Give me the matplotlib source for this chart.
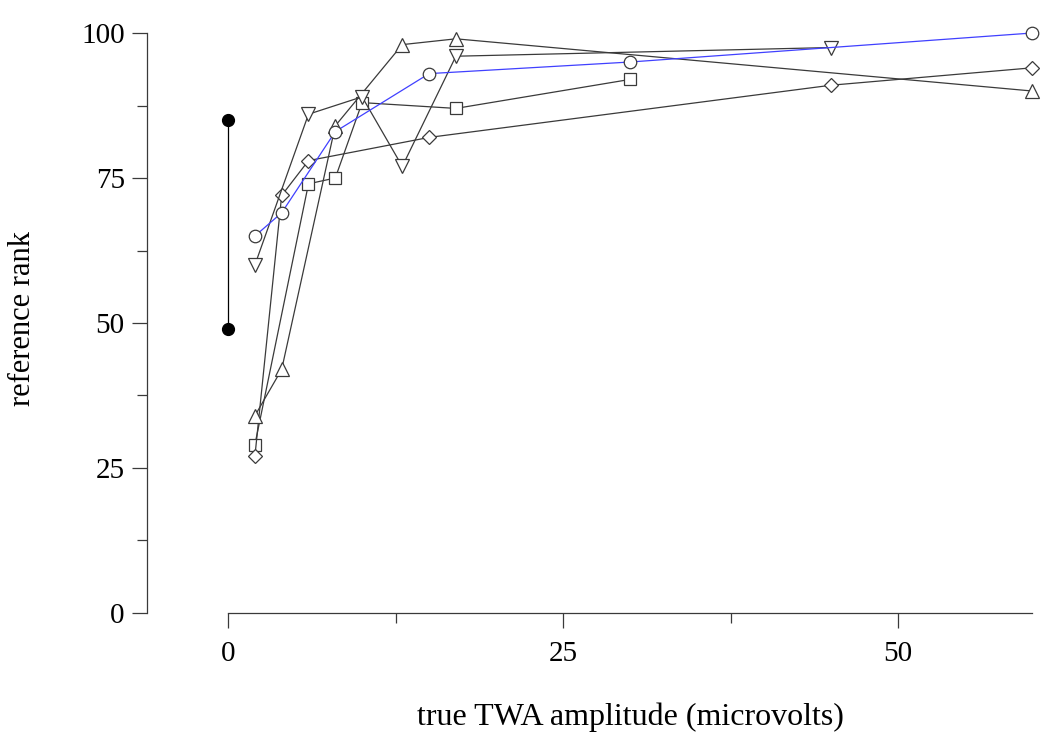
import numpy as np
import matplotlib
matplotlib.use("Agg")
import matplotlib.pyplot as plt
from matplotlib.ticker import MultipleLocator

plt.rcParams['font.family'] = ['Liberation Serif', 'DejaVu Serif']

# true TWA amplitude (microvolts) vs reference rank, one series per marker
circ_x = [2, 4, 8, 15, 30, 60]
circ_y = [65, 69, 83, 93, 95, 100]
sq_x = [2, 6, 8, 10, 17, 30]
sq_y = [29, 74, 75, 88, 87, 92]
dia_x = [2, 4, 6, 15, 45, 60]
dia_y = [27, 72, 78, 82, 91, 94]
up_x = [2, 4, 8, 13, 17, 60]
up_y = [34, 42, 84, 98, 99, 90]
dn_x = [2, 6, 10, 13, 17, 45]
dn_y = [60, 86, 89, 77, 96, 97.5]
# reference range at zero amplitude
ref_x = [0, 0]
ref_y = [49, 85]

fig = plt.figure(figsize=(10.5, 7.47), dpi=100)
ax = fig.add_axes([0.14, 0.1794, 0.843, 0.7764])

gray = '#3a3a3a'
mk = dict(mfc='white', mec=gray, mew=0.9, clip_on=False, zorder=3)

ax.plot(ref_x, ref_y, '-o', color='black', lw=0.9, ms=8.5, mfc='black', clip_on=False)
ax.plot(sq_x, sq_y, '-s', color=gray, lw=0.9, ms=8, **mk)
ax.plot(dia_x, dia_y, '-D', color=gray, lw=0.9, ms=7, **mk)
ax.plot(up_x, up_y, '-^', color=gray, lw=0.9, ms=9.5, **mk)
ax.plot(dn_x, dn_y, '-v', color=gray, lw=0.9, ms=9.5, **mk)
ax.plot(circ_x, circ_y, '-o', color='#4040ff', lw=0.9, ms=9, **mk)

x0, x1 = -6.05, 60
ax.set_xlim(x0, x1)
ax.set_ylim(0, 100)
ax.spines['top'].set_visible(False)
ax.spines['right'].set_visible(False)
ax.spines['bottom'].set_bounds(0, 60)
ax.spines['left'].set_bounds(0, 100)
for s in ['bottom', 'left']:
    ax.spines[s].set_color(gray)
    ax.spines[s].set_linewidth(0.9)

ax.xaxis.set_major_locator(MultipleLocator(25))
ax.xaxis.set_minor_locator(MultipleLocator(12.5))
ax.yaxis.set_major_locator(MultipleLocator(25))
ax.yaxis.set_minor_locator(MultipleLocator(12.5))
ax.tick_params(which='major', length=11, width=0.9, color=gray, labelsize=21)
ax.tick_params(which='minor', length=7, width=0.9, color=gray)
ax.tick_params(axis='x', which='major', pad=9)
ax.tick_params(axis='y', which='major', pad=5)

ax.set_xlabel('true TWA amplitude (microvolts)', fontsize=23, labelpad=26)
ax.set_ylabel('reference rank', fontsize=22, labelpad=32)
# center the x label under the drawn part of the bottom axis
ax.xaxis.label.set_x((30 - x0) / (x1 - x0))
ax.yaxis.label.set_y(0.508)

fig.savefig('out.png', dpi=100)
